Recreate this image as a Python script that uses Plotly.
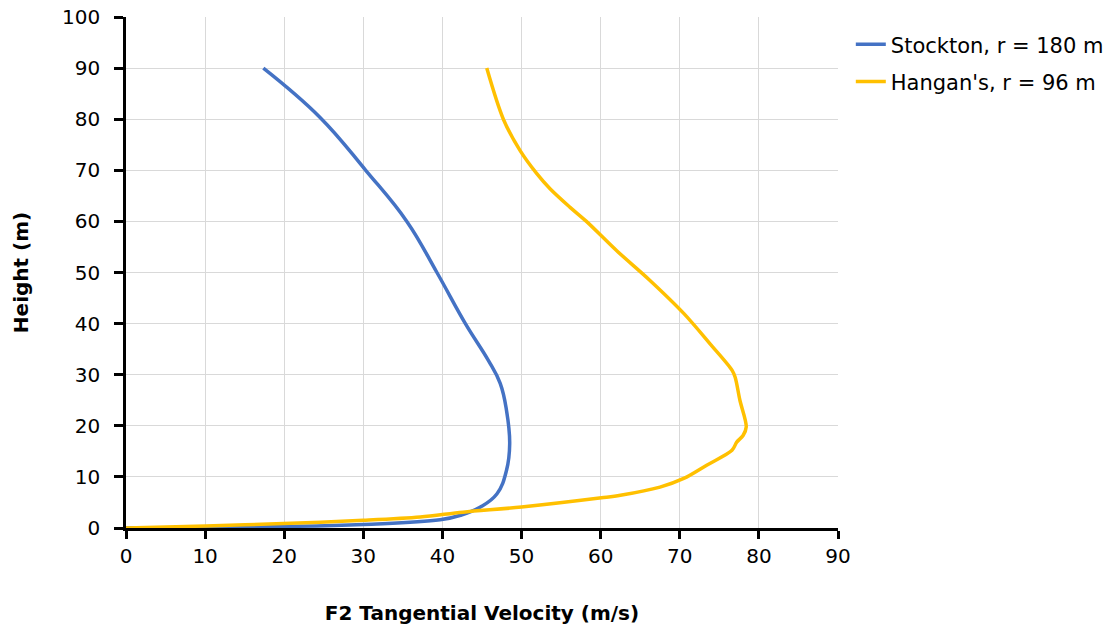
import plotly.graph_objects as go

stockton_v = [0, 19.9, 30.0, 39.7, 42.3, 44.8, 46.9, 48.1, 48.5, 48.1, 47.3, 45.8, 42.9, 39.3, 35.5, 30.3, 24.5, 17.36]
stockton_h = [0, 0.3, 0.7, 1.6, 2.5, 4.1, 6.7, 11.3, 16.5, 23.0, 28.3, 32.8, 40.0, 50.0, 60.0, 70.0, 80.4, 90]

hangan_v = [0, 10.1, 19.9, 30, 37.2, 42.6, 50.0, 60.1, 62.5, 67.5, 70.5, 73.4, 76.6, 77.2, 78.0, 78.4, 77.6, 77.0, 76.6, 73.8, 70.5, 66.2, 62.0, 58.2, 56.1, 53.6, 51.9, 49.8, 47.7, 45.6]
hangan_h = [0, 0.4, 0.86, 1.5, 2.15, 3.1, 4.1, 5.9, 6.4, 8.0, 9.7, 12.3, 15.2, 16.8, 18.1, 19.8, 25.0, 29.5, 30.9, 36.1, 42.0, 48.5, 54.3, 60.0, 62.8, 66.4, 69.4, 73.9, 80.0, 90]

fig = go.Figure()
fig.add_trace(go.Scatter(x=stockton_v, y=stockton_h, mode="lines", name="Stockton, r = 180 m",
                         legendgroup="a",
                         line=dict(color="#4472C4", width=3.5, shape="spline", smoothing=1.2)))
fig.add_trace(go.Scatter(x=hangan_v, y=hangan_h, mode="lines", name="Hangan's, r = 96 m",
                         legendgroup="b",
                         line=dict(color="#FFC000", width=3.5, shape="spline", smoothing=0.9)))

font_family = "DejaVu Sans, Liberation Sans, Arial, sans-serif"
fig.update_layout(
    width=1118, height=630,
    margin=dict(l=126, r=280, t=17, b=102, autoexpand=False),
    paper_bgcolor="white", plot_bgcolor="white",
    font=dict(family=font_family, color="black", size=20),
    legend=dict(x=1.018, y=0.986, xanchor="left", yanchor="top",
                font=dict(size=21, family=font_family), itemwidth=30,
                traceorder="grouped", tracegroupgap=7),
    showlegend=True,
)
fig.update_xaxes(range=[0, 90], dtick=10, tick0=0, showgrid=True, gridcolor="#d9d9d9", gridwidth=1.2,
                 showline=True, linecolor="black", linewidth=2.5, ticks="outside", ticklen=8,
                 tickwidth=2.5, tickcolor="black", zeroline=False, automargin=False,
                 ticklabelstandoff=0, ticklabeloverflow="allow",
                 tickfont=dict(size=20),
                 title=dict(text="<b>F2 Tangential Velocity (m/s)</b>", font=dict(size=20), standoff=40))
fig.update_yaxes(range=[0, 100], dtick=10, tick0=0, showgrid=True, gridcolor="#d9d9d9", gridwidth=1.2,
                 showline=True, linecolor="black", linewidth=2.5, ticks="outside", ticklen=9,
                 tickwidth=2.5, tickcolor="black", zeroline=False, automargin=False,
                 ticklabelstandoff=10, ticklabeloverflow="allow",
                 tickfont=dict(size=20),
                 title=dict(text="<b>Height (m)</b>", font=dict(size=20), standoff=29))

fig.write_html("out.html", config={"displayModeBar": False},
               post_script="document.body.style.margin='0';")
